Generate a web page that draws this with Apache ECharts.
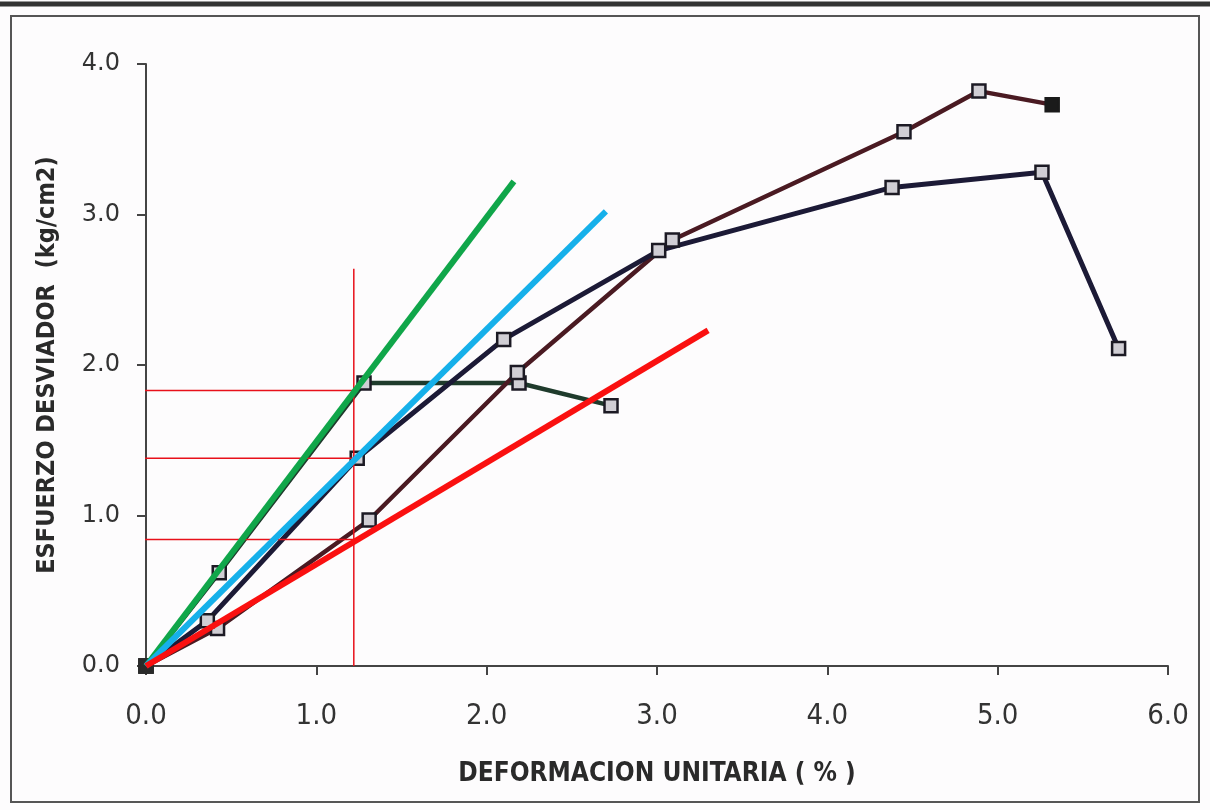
<!DOCTYPE html>
<html>
<head>
<meta charset="utf-8">
<script src="https://cdn.jsdelivr.net/npm/echarts@6/dist/echarts.min.js"></script>
<style>
html,body{margin:0;padding:0;background:#fdfcfd;}
#c{width:1210px;height:810px;}
</style>
</head>
<body>
<div id="c"></div>
<script>
// ---- data ----
var xTicks = ['0.0','1.0','2.0','3.0','4.0','5.0','6.0'];
var yTicks = ['0.0','1.0','2.0','3.0','4.0'];
var serieMaroonX = [0, 0.42, 1.31, 2.18, 3.09, 4.45, 4.89, 5.32];
var serieMaroonY = [0, 0.25, 0.97, 1.95, 2.83, 3.55, 3.82, 3.73];
var serieNavyX = [0, 0.36, 1.24, 2.10, 3.01, 4.38, 5.26, 5.71];
var serieNavyY = [0, 0.30, 1.38, 2.17, 2.76, 3.18, 3.28, 2.11];
var serieGreenX = [0, 0.43, 1.28, 2.19, 2.73];
var serieGreenY = [0, 0.62, 1.88, 1.88, 1.73];
// tangent lines (start, end)
var tanGreen = [[0, 0], [2.16, 3.22]];
var tanBlue = [[0, 0], [2.70, 3.02]];
var tanRed = [[0, 0], [3.30, 2.23]];
// thin red guide lines
var guideV = [[1.22, 0], [1.22, 2.64]];
var guideH1 = [[-0.02, 1.83], [1.22, 1.83]];
var guideH2 = [[-0.02, 1.38], [1.22, 1.38]];
var guideH3 = [[-0.07, 0.84], [1.22, 0.84]];

function pts(xs, ys){ return xs.map(function(x,i){ return [x, ys[i]]; }); }

var chart = echarts.init(document.getElementById('c'));
var fontCond = '"DejaVu Sans Condensed","Liberation Sans",Arial,sans-serif';

function dataSeries(xs, ys, color, width, filledLast){
  var d = pts(xs, ys).map(function(p, i){
    var o = {value: p};
    if (filledLast && i === xs.length - 1) {
      o.itemStyle = {color: '#1a1a1a', borderColor: '#1a1a1a'};
    }
    if (i === 0) o.itemStyle = {color: '#2a2a2a', borderColor: '#2a2a2a'};
    return o;
  });
  return {
    type: 'line', data: d, symbol: 'rect', symbolSize: 13,
    lineStyle: {color: color, width: width},
    itemStyle: {color: '#d0ced4', borderColor: '#1c1a24', borderWidth: 2.5},
    animation: false, z: 3
  };
}
function seg(data, color, width, z){
  return {type: 'line', data: data, symbol: 'none', clip: false,
    lineStyle: {color: color, width: width}, animation: false, z: z};
}

chart.setOption({
  backgroundColor: '#fdfcfd',
  animation: false,
  grid: {left: 146, right: 42, top: 64, bottom: 144},
  xAxis: {
    type: 'value', min: 0, max: 6, interval: 1,
    axisLine: {show: true, onZero: false, lineStyle: {color: '#444', width: 2}},
    axisTick: {show: true, length: 9, inside: false, lineStyle: {color: '#444', width: 2}},
    splitLine: {show: false},
    axisLabel: {
      formatter: function(v){ return xTicks[Math.round(v)]; },
      color: '#333', fontSize: 29, fontFamily: fontCond, margin: 36
    },
    name: 'DEFORMACION UNITARIA ( % )', nameLocation: 'middle', nameGap: 95,
    nameTextStyle: {color: '#2a2a2a', fontSize: 26, fontFamily: fontCond, fontWeight: 'bold'}
  },
  yAxis: {
    type: 'value', min: 0, max: 4, interval: 1,
    axisLine: {show: true, onZero: false, lineStyle: {color: '#444', width: 2}},
    axisTick: {show: true, length: 9, lineStyle: {color: '#444', width: 2}},
    splitLine: {show: false},
    axisLabel: {
      formatter: function(v){ return yTicks[Math.round(v)]; },
      color: '#333', fontSize: 24, fontFamily: 'DejaVu Sans, sans-serif', margin: 26
    },
    name: 'ESFUERZO DESVIADOR  (kg/cm2)', nameLocation: 'middle', nameGap: 86,
    nameRotate: 90,
    nameTextStyle: {color: '#2a2a2a', fontSize: 25, fontFamily: fontCond, fontWeight: 'bold'}
  },
  graphic: [
    {type: 'rect', shape: {x: 11, y: 16, width: 1188, height: 786}, silent: true,
     style: {fill: 'none', stroke: '#555', lineWidth: 2}, z: 0},
    {type: 'line', shape: {x1: 0, y1: 4, x2: 1210, y2: 4}, silent: true,
     style: {stroke: '#333', lineWidth: 5}, z: 0}
  ],
  series: [
    dataSeries(serieGreenX, serieGreenY, '#1f3b2c', 4.5, false),
    dataSeries(serieMaroonX, serieMaroonY, '#4a1a22', 4.5, true),
    dataSeries(serieNavyX, serieNavyY, '#1c1a36', 5, false),
    seg(guideV, '#e8101a', 1.5, 4),
    seg(guideH1, '#e8101a', 1.5, 4),
    seg(guideH2, '#e8101a', 1.5, 4),
    seg(guideH3, '#e8101a', 1.5, 4),
    seg(tanGreen, '#10a64a', 6, 5),
    seg(tanBlue, '#16b0ea', 6, 6),
    seg(tanRed, '#fa1010', 6, 7)
  ]
});
</script>
</body>
</html>
